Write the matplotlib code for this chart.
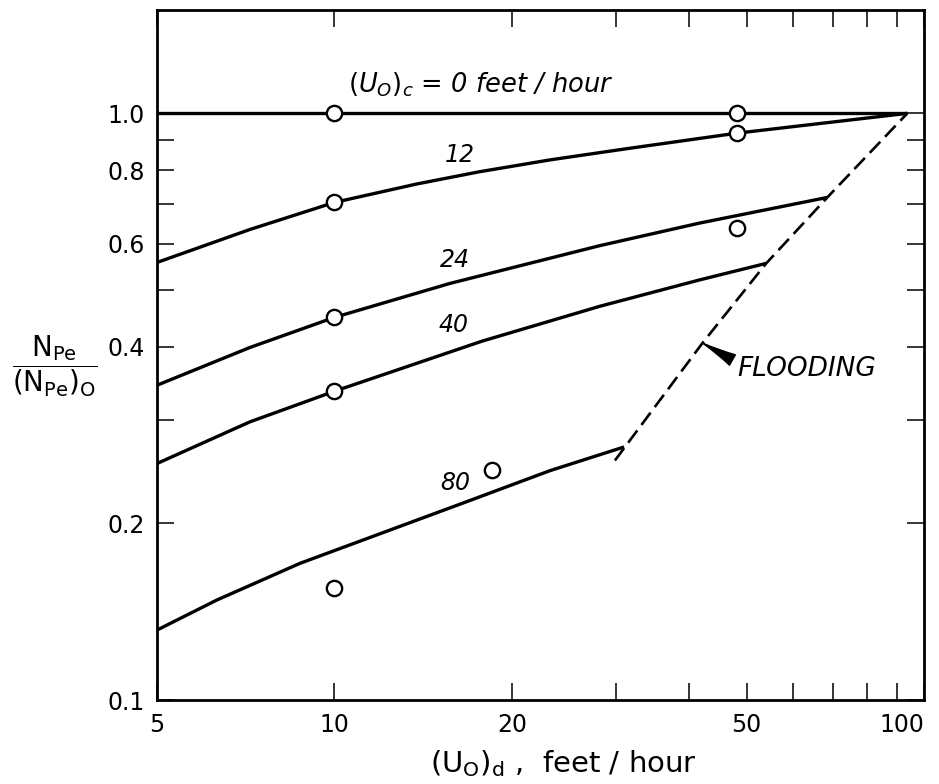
import matplotlib
matplotlib.use("Agg")
import matplotlib.pyplot as plt
from matplotlib.ticker import NullLocator

# curve values, (U0)_d in feet/hour vs N_Pe/(N_Pe)_0
x_c0 = [5.0, 93.7]
y_c0 = [1.0, 1.0]

x_c12 = [5.0, 7.19, 10.0, 13.8, 17.6, 23.2, 31.7, 48.1, 93.7]
y_c12 = [0.557, 0.634, 0.705, 0.758, 0.795, 0.833, 0.872, 0.925, 1.0]

x_c24 = [5.0, 7.19, 10.0, 15.7, 28.2, 41.6, 68.6]
y_c24 = [0.344, 0.399, 0.449, 0.513, 0.595, 0.650, 0.719]

x_c40 = [5.0, 7.19, 10.0, 17.8, 28.2, 41.6, 54.0]
y_c40 = [0.253, 0.298, 0.336, 0.409, 0.469, 0.520, 0.555]

x_c80 = [5.0, 6.31, 8.74, 16.8, 23.2, 31.0]
y_c80 = [0.1316, 0.148, 0.171, 0.218, 0.246, 0.270]

x_flood = [29.9, 42.1, 54.0, 69.1, 93.7]
y_flood = [0.256, 0.406, 0.555, 0.725, 1.0]

# measured points (open circles)
x_pts = [10.0, 48.1, 10.0, 48.1, 10.0, 48.1, 10.0, 10.0, 18.5]
y_pts = [1.0, 1.0, 0.705, 0.925, 0.449, 0.637, 0.336, 0.155, 0.247]

curve_labels = ["12", "24", "40", "80"]
label_x = [16.3, 16.0, 15.9, 16.0]
label_y = [0.848, 0.562, 0.435, 0.234]

x_ticks = [5, 10, 20, 30, 40, 50, 60, 70, 80, 90, 100]
x_ticklabels = ["5", "10", "20", "", "", "50", "", "", "", "", "100"]
y_ticks = [0.1, 0.2, 0.3, 0.4, 0.5, 0.6, 0.7, 0.8, 0.9, 1.0]
y_ticklabels = ["0.1", "0.2", "", "0.4", "", "0.6", "", "0.8", "", "1.0"]

plt.rcParams["lines.scale_dashes"] = False
plt.rcParams["mathtext.fontset"] = "dejavusans"

fig = plt.figure(figsize=(9.39, 7.84), dpi=100)
ax = fig.add_axes([0.1672, 0.1071, 0.8168, 0.8801])
ax.set_xscale("log")
ax.set_yscale("log")
ax.set_xlim(5, 100)
ax.set_ylim(0.1, 1.5)

line_kw = dict(color="black", linewidth=2.4, solid_capstyle="butt",
               solid_joinstyle="round")
for xs, ys in [(x_c0, y_c0), (x_c12, y_c12), (x_c24, y_c24),
               (x_c40, y_c40), (x_c80, y_c80)]:
    ax.plot(xs, ys, **line_kw)
ax.plot(x_flood, y_flood, color="black", linewidth=1.9, dashes=(11, 5))

ax.plot(x_pts, y_pts, linestyle="none", marker="o", markersize=11,
        markerfacecolor="white", markeredgecolor="black",
        markeredgewidth=1.7, zorder=5)

for text, lx, ly in zip(curve_labels, label_x, label_y):
    ax.text(lx, ly, text, fontsize=17, style="italic", ha="center", va="center")

ax.text(17.7, 1.117, r"$(U_O)_c$ = 0 feet / hour", fontsize=18.5,
        style="italic", ha="center", va="center")

ax.annotate("FLOODING", xy=(42.1, 0.406), xytext=(48.3, 0.366),
            fontsize=19, style="italic", ha="left", va="center",
            arrowprops=dict(arrowstyle="wedge,tail_width=0.45,shrink_factor=0.4",
                            color="black", relpos=(0.0, 0.75),
                            shrinkA=2, shrinkB=0))

ax.set_xticks(x_ticks, x_ticklabels)
ax.xaxis.set_minor_locator(NullLocator())
ax.set_yticks(y_ticks, y_ticklabels)
ax.yaxis.set_minor_locator(NullLocator())

ax.tick_params(which="both", direction="in", top=True, right=True,
               length=12, width=1.1, labelsize=17, pad=9)
ax.get_xticklabels()[-1].set_horizontalalignment("right")
for spine in ax.spines.values():
    spine.set_linewidth(2.0)

ax.text(0.530, -0.092, r"$(\mathrm{U_O})_\mathrm{d}$ ,  feet / hour",
        transform=ax.transAxes, fontsize=21, ha="center", va="center")
ax.text(-0.133, 0.484, r"$\dfrac{\mathrm{N_{Pe}}}{\mathrm{(N_{Pe})_O}}$",
        transform=ax.transAxes, fontsize=20, ha="center", va="center")

fig.savefig("out.png", dpi=100)
